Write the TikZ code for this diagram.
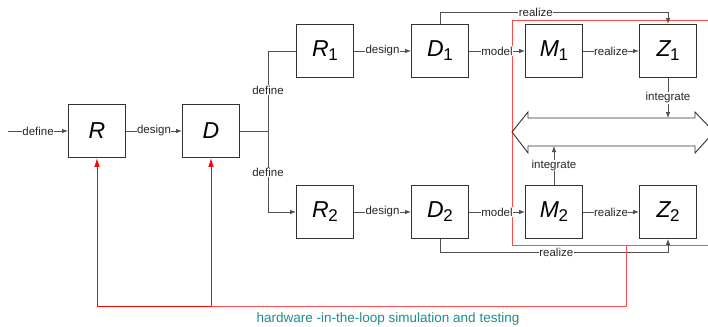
\documentclass[tikz,border=0pt]{standalone}
\usepackage{fontspec}
\setmainfont{Liberation Sans}
\usetikzlibrary{arrows.meta}
\definecolor{boxc}{HTML}{333333}
\definecolor{linec}{HTML}{505050}
\definecolor{hil}{HTML}{1E8C8C}
\tikzset{
  blk/.style={draw=boxc, line width=0.9pt, minimum width=57pt, minimum height=53pt, inner sep=0pt, font=\fontsize{23}{23}\selectfont\itshape},
  conn/.style={draw=linec, line width=0.8pt},
  arr/.style={conn, -{Latex[length=6pt,width=4.5pt]}},
  lbl/.style={fill=white, inner sep=0.5pt, font=\fontsize{11.5}{11.5}\selectfont, text=black!85},
  redl/.style={draw=red, line width=0.9pt},
  redarr/.style={redl, -{Latex[length=9pt,width=5.5pt]}},
}
\newcommand{\sub}[2]{#1\kern-0.5pt{\normalfont\fontsize{17}{17}\selectfont\raisebox{-4pt}{#2}}}
\begin{document}
\begin{tikzpicture}[x=1pt,y=-1pt]
\useasboundingbox (0,0) rectangle (708,326);
% red region
\draw[redl, draw=red!70] (715,20) -- (512,20) -- (512,245) -- (715,245);
% boxes
\node[blk] (R)  at (97,131) {R};
\node[blk] (D)  at (211,131) {D};
\node[blk] (R1) at (325,51) {\sub{R}{1}};
\node[blk] (D1) at (440,51) {\sub{D}{1}};
\node[blk] (M1) at (554,51) {\sub{M}{1}};
\node[blk] (Z1) at (668,51) {\sub{Z}{1}};
\node[blk] (R2) at (325,212) {\sub{R}{2}};
\node[blk] (D2) at (440,212) {\sub{D}{2}};
\node[blk] (M2) at (554,212) {\sub{M}{2}};
\node[blk] (Z2) at (668,212) {\sub{Z}{2}};
% double arrow bus
\draw[draw=boxc, line width=0.9pt, fill=white]
  (512,132) -- (528,112) -- (528,118) -- (695,118) -- (695,112) -- (714,132)
  -- (695,153) -- (695,146) -- (528,146) -- (528,153) -- cycle;
\coordinate (bustop) at (668,118);
\coordinate (busbot) at (554,146);
% input
\coordinate (in) at (8,131);
\draw[arr] (in) -- node[lbl]{define} (R);
\draw[arr] (R) -- node[lbl]{design} (D);
% split
\coordinate (sp) at (268,131);
\draw[conn] (D) -- (sp);
\draw[conn] (sp) -- node[lbl, pos=0.51]{define} (268,51) -- (R1);
\draw[arr] (sp) -- node[lbl, pos=0.51]{define} (268,212) -- (R2);
% rows
\draw[arr] (R1) -- node[lbl]{design} (D1);
\draw[arr] (D1) -- node[lbl]{model} (M1);
\draw[arr] (M1) -- node[lbl]{realize} (Z1);
\draw[arr] (R2) -- node[lbl]{design} (D2);
\draw[arr] (D2) -- node[lbl]{model} (M2);
\draw[arr] (M2) -- node[lbl]{realize} (Z2);
% realize bypasses
\draw[arr] (D1.north) -- (440,12) -- node[lbl, pos=0.42]{realize} (668,12) -- (Z1.north);
\draw[arr] (D2.south) -- (440,252) -- node[lbl, pos=0.51]{realize} (668,252) -- (Z2.south);
% integrate
\draw[arr] (Z1.south) -- node[lbl, pos=0.5]{integrate} (bustop);
\draw[arr] (M2.north) -- node[lbl, pos=0.5]{integrate} (busbot);
% hardware in the loop
\coordinate (h1) at (626,245);
\coordinate (h2) at (626,306);
\coordinate (h3) at (97,306);
\coordinate (h4) at (211,306);
\draw[redl, draw=red!70] (h1) -- (h2) -- (h4);
\draw[redarr] (h4) -- (h3) -- (R.south);
\draw[redarr] (h4) -- (D.south);
\node[font=\fontsize{13.5}{13.5}\selectfont, text=hil] (hl) at (388,319) {hardware -in-the-loop simulation and testing};
\end{tikzpicture}
\end{document}
